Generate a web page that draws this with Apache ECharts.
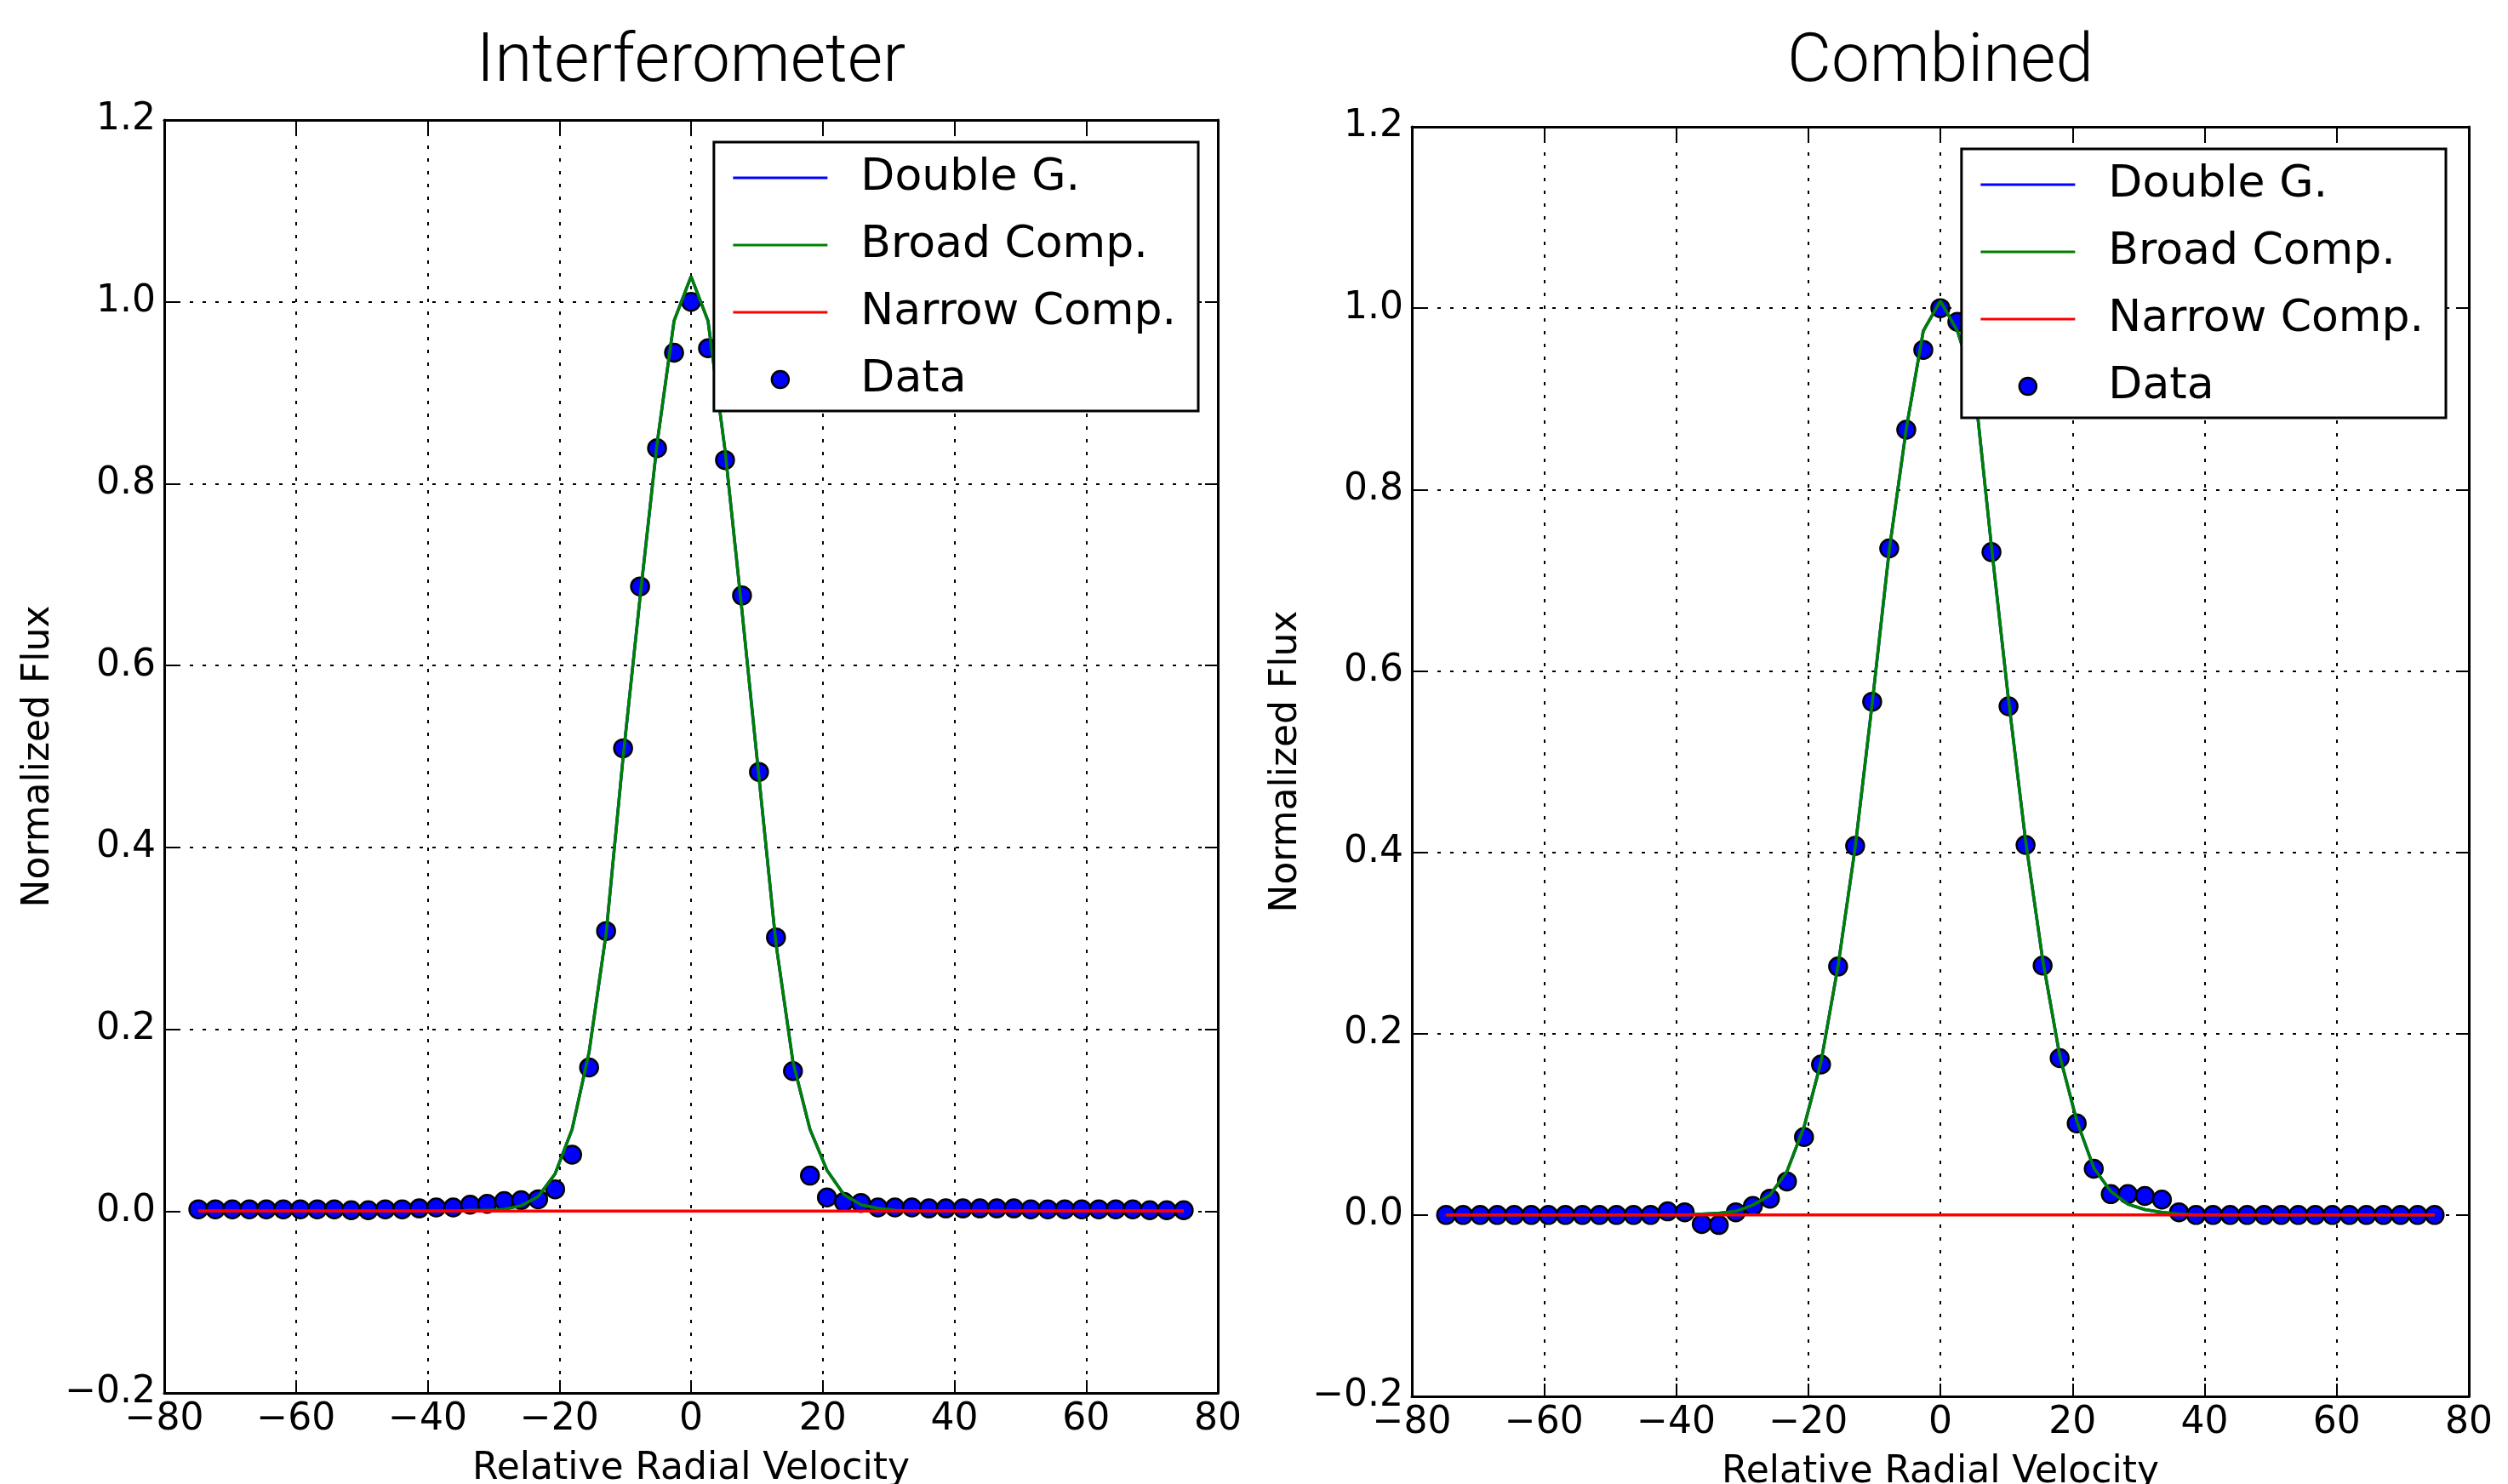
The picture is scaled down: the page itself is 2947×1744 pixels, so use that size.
<!DOCTYPE html>
<html>
<head>
<meta charset="utf-8">
<script src="https://cdn.jsdelivr.net/npm/echarts@6/dist/echarts.min.js"></script>
<style>
html,body{margin:0;padding:0;background:#fff}
#chart{width:2947px;height:1744px}
</style>
</head>
<body>
<div id="chart"></div>
<script>
// velocity channels (shared by both panels)
var velocity = [-74.82,-72.24,-69.66,-67.08,-64.50,-61.92,-59.34,-56.76,-54.18,-51.60,
	-49.02,-46.44,-43.86,-41.28,-38.70,-36.12,-33.54,-30.96,-28.38,-25.80,
	-23.22,-20.64,-18.06,-15.48,-12.90,-10.32,-7.74,-5.16,-2.58,0,
	2.58,5.16,7.74,10.32,12.90,15.48,18.06,20.64,23.22,25.80,
	28.38,30.96,33.54,36.12,38.70,41.28,43.86,46.44,49.02,51.60,
	54.18,56.76,59.34,61.92,64.50,67.08,69.66,72.24,74.82];

// Interferometer panel
var interfData = [0.002,0.002,0.002,0.002,0.002,0.002,0.002,0.002,0.002,0.001,
	0.001,0.002,0.002,0.003,0.004,0.004,0.007,0.008,0.011,0.012,
	0.013,0.024,0.062,0.158,0.308,0.509,0.687,0.839,0.944,1.000,
	0.949,0.826,0.677,0.483,0.301,0.154,0.039,0.015,0.010,0.009,
	0.004,0.004,0.004,0.003,0.003,0.003,0.003,0.003,0.003,0.002,
	0.002,0.002,0.002,0.002,0.002,0.002,0.001,0.001,0.001];
var interfBroad = [0,0,0,0,0,0,0,0,0,0,
	0,0,0,0,0,0,0.001,0.001,0.002,0.006,
	0.016,0.041,0.090,0.175,0.305,0.499,0.675,0.844,0.979,1.028,
	0.979,0.837,0.660,0.477,0.294,0.164,0.090,0.045,0.018,0.007,
	0.003,0.001,0,0,0,0,0,0,0,0,
	0,0,0,0,0,0,0,0,0];
var interfDouble = [0,0,0,0,0,0,0,0,0,0,
	0,0,0,0,0,0,0.001,0.001,0.002,0.006,
	0.016,0.041,0.090,0.175,0.305,0.499,0.675,0.844,0.979,1.028,
	0.979,0.837,0.660,0.477,0.294,0.164,0.090,0.045,0.018,0.007,
	0.003,0.001,0,0,0,0,0,0,0,0,
	0,0,0,0,0,0,0,0,0];
var interfNarrow = [0,0,0,0,0,0,0,0,0,0,
	0,0,0,0,0,0,0,0,0,0,
	0,0,0,0,0,0,0,0,0,0,
	0,0,0,0,0,0,0,0,0,0,
	0,0,0,0,0,0,0,0,0,0,
	0,0,0,0,0,0,0,0,0];

// Combined panel
var combData = [0,0,0,0,0,0,0,0,0,0,
	0,0,0,0.004,0.003,-0.010,-0.011,0.003,0.010,0.018,
	0.037,0.086,0.166,0.274,0.407,0.566,0.735,0.866,0.954,1.000,
	0.985,0.915,0.731,0.561,0.408,0.275,0.173,0.101,0.051,0.023,
	0.023,0.021,0.017,0.003,0,0,0,0,0,0,
	0,0,0,0,0,0,0,0,0];
var combBroad = [0,0,0,0,0,0,0,0,0,0,
	0,0,0,0,0,0.001,0.002,0.004,0.011,0.022,
	0.048,0.097,0.169,0.275,0.405,0.564,0.733,0.867,0.975,1.008,
	0.975,0.915,0.737,0.568,0.413,0.282,0.176,0.104,0.052,0.026,
	0.012,0.006,0.003,0.001,0,0,0,0,0,0,
	0,0,0,0,0,0,0,0,0];
var combDouble = [0,0,0,0,0,0,0,0,0,0,
	0,0,0,0,0,0.001,0.002,0.004,0.011,0.022,
	0.048,0.097,0.169,0.275,0.405,0.564,0.733,0.867,0.975,1.008,
	0.975,0.915,0.737,0.568,0.413,0.282,0.176,0.104,0.052,0.026,
	0.012,0.006,0.003,0.001,0,0,0,0,0,0,
	0,0,0,0,0,0,0,0,0];
var combNarrow = [0,0,0,0,0,0,0,0,0,0,
	0,0,0,0,0,0,0,0,0,0,
	0,0,0,0,0,0,0,0,0,0,
	0,0,0,0,0,0,0,0,0,0,
	0,0,0,0,0,0,0,0,0,0,
	0,0,0,0,0,0,0,0,0];

var panelTitles = ['Interferometer', 'Combined'];
var xLabel = 'Relative Radial Velocity';
var yLabel = 'Normalized Flux';

var FONT = 'DejaVu Sans';

function pairs(ys){
	var out = [];
	for(var i=0;i<velocity.length;i++){
		out.push([velocity[i], ys[i]]);
	}
	return out;
}
function minusFmt(d){
	return function(v){
		var s = d > 0 ? v.toFixed(d) : String(Math.round(v));
		return s.replace('-', '\u2212');
	};
}
// legend entry for a plain line (no marker in the middle)
function lineItem(name, color){
	return {name: name, itemStyle: {color: 'rgba(0,0,0,0)', borderWidth: 0, opacity: 0},
		lineStyle: {color: color, width: 3, opacity: 1}};
}

var grids = [
	{left: 193, top: 141, width: 1238, height: 1496, legendGap: 23},
	{left: 1659, top: 149, width: 1242, height: 1492, legendGap: 27}
];

var xAxes = [], yAxes = [], series = [], legends = [], graphics = [];

for(var g=0; g<2; g++){
	var frame = {show: true, onZero: false, lineStyle: {color: '#000', width: 3}};
	var ticks = {show: true, inside: true, length: 15, lineStyle: {color: '#000', width: 2}};
	var grid = {color: '#000', width: 2, type: [4, 11]};
	xAxes.push({
		type: 'value', gridIndex: g, position: 'bottom',
		min: -80, max: 80, interval: 20,
		axisLine: frame, axisTick: ticks,
		axisLabel: {fontFamily: FONT, fontSize: 44, color: '#000', margin: 10, formatter: minusFmt(0)},
		splitLine: {show: true, lineStyle: grid},
		name: xLabel, nameLocation: 'middle', nameGap: 68,
		nameTextStyle: {fontFamily: FONT, fontSize: 44, color: '#000'}
	});
	xAxes.push({
		type: 'value', gridIndex: g, position: 'top',
		min: -80, max: 80, interval: 20,
		axisLine: frame, axisTick: ticks,
		axisLabel: {show: false}, splitLine: {show: false}
	});
	yAxes.push({
		type: 'value', gridIndex: g, position: 'left',
		min: -0.2, max: 1.2, interval: 0.2,
		axisLine: frame, axisTick: ticks,
		axisLabel: {fontFamily: FONT, fontSize: 44, color: '#000', margin: 10, formatter: minusFmt(1)},
		splitLine: {show: true, lineStyle: grid},
		name: yLabel, nameLocation: 'middle', nameGap: 125,
		nameTextStyle: {fontFamily: FONT, fontSize: 44, color: '#000'}
	});
	yAxes.push({
		type: 'value', gridIndex: g, position: 'right',
		min: -0.2, max: 1.2, interval: 0.2,
		axisLine: frame, axisTick: ticks,
		axisLabel: {show: false}, splitLine: {show: false}
	});

	var data = g == 0 ? interfData : combData;
	var dbl = g == 0 ? interfDouble : combDouble;
	var broad = g == 0 ? interfBroad : combBroad;
	var narrow = g == 0 ? interfNarrow : combNarrow;

	series.push({
		name: 'Data', type: 'scatter', xAxisIndex: g*2, yAxisIndex: g*2,
		data: pairs(data), symbolSize: 21,
		itemStyle: {color: '#0000ff', borderColor: '#000', borderWidth: 2.5, opacity: 1}
	});
	series.push({
		name: 'Double G.', type: 'line', xAxisIndex: g*2, yAxisIndex: g*2,
		data: pairs(dbl), symbol: 'none', lineStyle: {color: '#0000ff', width: 3.5}, itemStyle: {color: '#0000ff'}
	});
	series.push({
		name: 'Broad Comp.', type: 'line', xAxisIndex: g*2, yAxisIndex: g*2,
		data: pairs(broad), symbol: 'none', lineStyle: {color: '#008000', width: 3.5}, itemStyle: {color: '#008000'}
	});
	series.push({
		name: 'Narrow Comp.', type: 'line', xAxisIndex: g*2, yAxisIndex: g*2,
		data: pairs(narrow), symbol: 'none', lineStyle: {color: '#ff0000', width: 3.5}, itemStyle: {color: '#ff0000'}
	});

	var gr = grids[g];
	legends.push({
		orient: 'vertical',
		right: 2947 - (gr.left + gr.width - gr.legendGap),
		top: gr.top + 26,
		itemWidth: 111, itemHeight: 20, itemGap: 27,
		padding: [16, 26, 11, 21],
		borderColor: '#000', borderWidth: 3, backgroundColor: '#fff',
		selectedMode: false,
		textStyle: {fontFamily: FONT, fontSize: 52, lineHeight: 52, color: '#000', padding: [0, 0, 0, 34]},
		data: [
			lineItem('Double G.', '#0000ff'),
			lineItem('Broad Comp.', '#008000'),
			lineItem('Narrow Comp.', '#ff0000'),
			{name: 'Data', itemStyle: {color: '#0000ff', borderColor: '#000', borderWidth: 2.5}}
		]
	});

	graphics.push({
		type: 'text',
		x: gr.left + gr.width / 2,
		y: 75,
		style: {
			text: panelTitles[g],
			font: '300 80px Roboto',
			fill: '#000',
			textAlign: 'center',
			textVerticalAlign: 'middle'
		}
	});
}

var myChart = echarts.init(document.getElementById('chart'));
var option = {
	animation: false,
	backgroundColor: '#fff',
	grid: grids.map(function(d){
		return {left: d.left, top: d.top, width: d.width, height: d.height, containLabel: false, outerBoundsMode: 'none'};
	}),
	xAxis: xAxes,
	yAxis: yAxes,
	legend: legends,
	graphic: graphics,
	series: series
};
myChart.setOption(option);
</script>
</body>
</html>
